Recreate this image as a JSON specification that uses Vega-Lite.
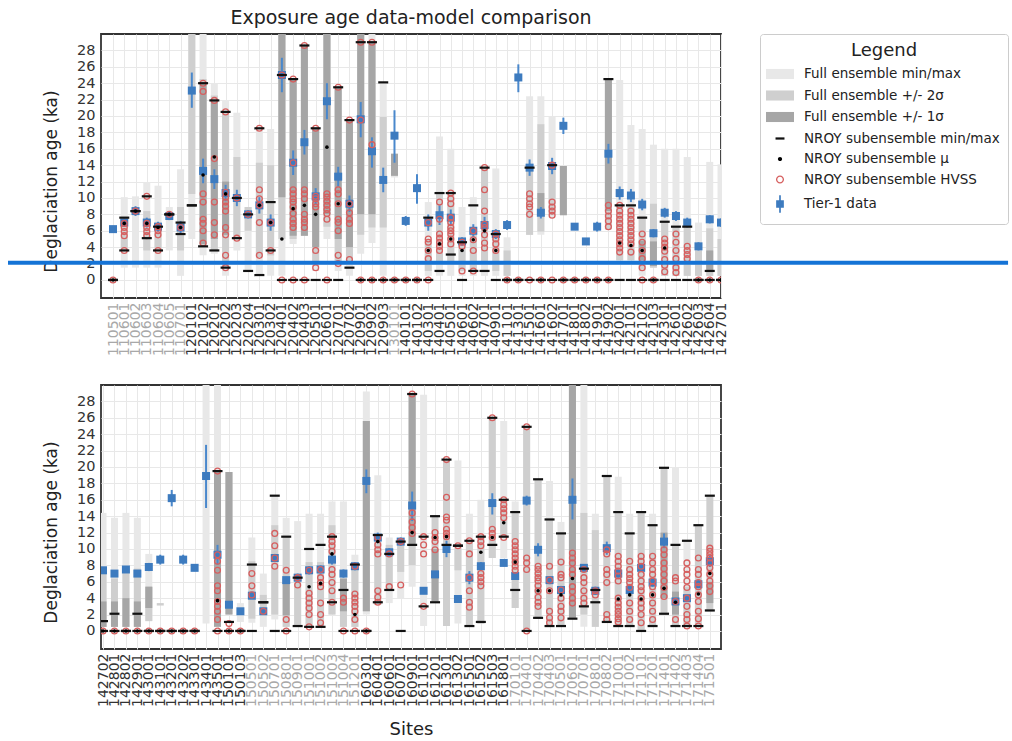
{
  "$schema": "https://vega.github.io/schema/vega-lite/v6.json",
  "padding": {"left": 5, "top": 8, "right": 0, "bottom": 0},
  "bounds": "flush",
  "spacing": 87,
  "datasets": {
    "leg": [
      {"k": "Full ensemble min/max"},
      {"k": "Full ensemble +/- 2σ"},
      {"k": "Full ensemble +/- 1σ"},
      {"k": "NROY subensemble min/max"},
      {"k": "NROY subensemble μ"},
      {"k": "NROY subensemble HVSS"},
      {"k": "Tier-1 data"}
    ],
    "top": [
      {"s":"110501","n0":0,"n1":0,"m":0,"h":[0],"o":6.2,"ol":5.8,"oh":6.6},
      {"s":"110601","f0":1.5,"f1":10.1,"a0":3.6,"a1":7.6,"n0":3.6,"n1":7.6,"m":6.9,"h":[6.9,6.4,5.9,5.4,3.6],"o":7.0,"ol":6.5,"oh":7.5},
      {"s":"110602","f0":1.5,"f1":10.2,"n0":8.4,"n1":8.4,"m":8.4,"h":[8.4],"o":8.4,"ol":7.8,"oh":9.0},
      {"s":"110603","f0":1.5,"f1":11.9,"a0":3.6,"a1":8.4,"n0":5.1,"n1":10.2,"m":6.9,"h":[10.2,6.9,6.4,5.9,5.4],"o":7.0,"ol":6.4,"oh":7.6},
      {"s":"110604","f0":1.5,"f1":11.5,"a0":3.6,"a1":7.0,"n0":3.6,"n1":6.5,"m":6.4,"h":[6.5,6.0,5.5,3.6],"o":6.5,"ol":5.9,"oh":7.1},
      {"s":"110605","f0":3.6,"f1":8.9,"n0":8.0,"n1":8.0,"m":8.0,"h":[8.0],"o":7.8,"ol":7.3,"oh":8.3},
      {"s":"110701","f0":0.5,"f1":13.5,"a0":3.6,"a1":8.9,"n0":5.6,"n1":7.0,"m":6.4,"h":[6.4],"o":6.4,"ol":5.6,"oh":7.2},
      {"s":"120101","f0":5.0,"f1":30,"a0":10.5,"a1":30,"n0":9.1,"n1":9.1,"h":[],"o":23.1,"ol":21.0,"oh":25.3},
      {"s":"120102","f0":3.0,"f1":30,"a0":4.1,"a1":24.5,"b0":4.4,"b1":23.9,"n0":4.1,"n1":24.0,"m":12.8,"h":[24.0,23.0,10.5,9.5,7.4,6.9,6.0,4.5],"o":13.3,"ol":11.8,"oh":14.8},
      {"s":"120201","f0":3.2,"f1":23.9,"a0":3.6,"a1":22.5,"b0":5.0,"b1":21.9,"n0":3.6,"n1":21.9,"m":15.0,"h":[21.9,14.8,9.5,7.0,5.5],"o":12.3,"ol":11.1,"oh":13.5},
      {"s":"120202","f0":0.5,"f1":21.9,"a0":1.5,"a1":20.5,"b0":5.5,"b1":12.0,"n0":1.5,"n1":20.5,"m":10.5,"h":[20.5,10.7,10.1,9.5,9.0,8.4,6.4,5.5,3.0,1.5],"o":10.6,"ol":9.6,"oh":11.6},
      {"s":"120203","f0":3.6,"f1":20.4,"a0":5.0,"a1":15.0,"n0":5.1,"n1":10.0,"h":[10.0,5.1],"o":10.0,"ol":9.0,"oh":11.0},
      {"s":"120204","f0":1.1,"f1":8.9,"a0":6.0,"a1":8.9,"n0":1.1,"n1":8.0,"h":[8.0],"o":8.0,"ol":7.5,"oh":8.5},
      {"s":"120301","f0":0.5,"f1":18.4,"a0":2.8,"a1":14.3,"n0":0.6,"n1":18.5,"m":9.1,"h":[18.5,11.0,9.9,9.1,7.0,3.0],"o":9.1,"ol":8.1,"oh":10.1},
      {"s":"120302","f0":0.5,"f1":18.4,"a0":3.0,"a1":14.0,"n0":3.6,"n1":9.5,"m":7.0,"h":[7.0,3.6],"o":7.0,"ol":6.0,"oh":8.0},
      {"s":"120401","f0":0.5,"f1":30,"a0":5.0,"a1":30,"b0":10.1,"b1":30,"n0":0,"n1":25.0,"m":5.0,"h":[25.0,0],"o":25.0,"ol":22.9,"oh":27.1},
      {"s":"120402","f0":4.4,"f1":24.5,"a0":5.0,"a1":24.5,"b0":5.4,"b1":24.5,"n0":0,"n1":24.5,"m":8.7,"h":[24.5,14.3,11.0,10.5,9.9,9.5,8.9,8.1,7.4,6.9,6.4,0],"o":14.3,"ol":12.8,"oh":15.8},
      {"s":"120403","f0":5.4,"f1":28.6,"a0":5.4,"a1":28.6,"b0":5.4,"b1":28.6,"n0":0,"n1":28.6,"m":9.1,"h":[28.6,11.0,10.5,9.9,8.0,7.4,7.0,6.4,0],"o":16.8,"ol":15.3,"oh":18.3},
      {"s":"120501","f0":1.1,"f1":18.6,"a0":2.0,"a1":18.5,"b0":4.0,"b1":18.5,"n0":0,"n1":18.5,"m":8.0,"h":[18.5,10.2,9.9,9.3,8.9,3.6,1.5],"o":10.2,"ol":9.2,"oh":11.2},
      {"s":"120601","f0":5.0,"f1":30,"a0":6.5,"a1":30,"b0":8.0,"b1":30,"n0":0,"m":16.2,"h":[10.5,10.1,9.6,9.1,8.6,8.1,7.4,0],"o":21.8,"ol":19.6,"oh":24.0},
      {"s":"120701","f0":1.1,"f1":23.5,"a0":2.0,"a1":23.5,"b0":5.0,"b1":23.5,"n0":0,"n1":23.5,"m":9.3,"h":[23.5,11.0,10.5,9.3,7.4,7.0,6.0,3.0,2.0],"o":12.6,"ol":11.4,"oh":13.8},
      {"s":"120702","f0":0.5,"f1":19.5,"a0":2.0,"a1":19.5,"b0":4.0,"b1":19.5,"n0":1.5,"n1":19.5,"m":9.3,"h":[19.5,9.3,8.2,7.4,6.9,2.5],"o":9.3,"ol":8.3,"oh":10.3},
      {"s":"120901","f0":3.2,"f1":30,"a0":5.5,"a1":30,"b0":8.0,"b1":30,"n0":0,"n1":29.0,"m":0,"h":[29.0,19.5,0],"o":19.6,"ol":17.4,"oh":21.7},
      {"s":"120902","f0":4.5,"f1":30,"a0":6.4,"a1":29.0,"b0":8.0,"b1":29.0,"n0":0,"n1":29.0,"m":0,"h":[29.0,16.5,0],"o":15.7,"ol":13.7,"oh":17.4},
      {"s":"120903","f0":0.5,"f1":24.1,"a0":6.4,"a1":19.9,"n0":0,"n1":24.1,"m":0,"h":[0],"o":12.2,"ol":10.7,"oh":13.7},
      {"s":"130101","f0":12.5,"f1":15.4,"b0":12.7,"b1":15.4,"n0":0,"n1":0,"m":0,"h":[0],"o":17.6,"ol":14.3,"oh":20.7},
      {"s":"140101","n0":0,"n1":0,"m":0,"h":[0],"o":7.2,"ol":6.6,"oh":7.8},
      {"s":"140102","n0":0,"n1":0,"m":0,"h":[0],"o":11.2,"ol":9.3,"oh":12.9},
      {"s":"140301","f0":0.5,"f1":9.5,"a0":1.1,"a1":5.0,"n0":0,"n1":7.6,"m":3.6,"h":[7.0,5.0,4.6,3.6,2.6,0],"o":7.0,"ol":6.0,"oh":8.0},
      {"s":"140401","f0":0.5,"f1":17.5,"a0":1.9,"a1":10.6,"n0":1.1,"n1":10.6,"m":4.4,"h":[9.5,7.4,5.6,5.1,4.6,4.1,3.6],"o":7.9,"ol":6.7,"oh":9.1},
      {"s":"140501","f0":0.5,"f1":16.0,"a0":1.9,"a1":10.6,"n0":3.1,"n1":10.6,"m":5.0,"h":[10.6,9.9,9.3,7.6,7.0,6.4,6.0,5.6,5.0,4.4],"o":7.6,"ol":6.6,"oh":8.6},
      {"s":"140601","f0":0.5,"f1":8.9,"a0":1.1,"a1":4.4,"n0":0,"n1":4.6,"m":3.6,"h":[4.6,4.1,1.1],"o":4.7,"ol":4.2,"oh":5.2},
      {"s":"140602","f0":0.5,"f1":10.1,"a0":1.1,"a1":6.0,"n0":1.1,"n1":9.1,"m":4.9,"h":[6.0,4.9,3.6,1.1],"o":6.0,"ol":5.2,"oh":6.8},
      {"s":"140701","f0":0.5,"f1":13.7,"a0":1.9,"a1":13.7,"n0":1.1,"n1":13.7,"m":6.0,"h":[13.7,11.0,8.4,6.8,6.4,5.5,4.5,3.9],"o":6.7,"ol":5.7,"oh":7.7},
      {"s":"140901","f0":0.5,"f1":13.6,"a0":1.1,"a1":6.0,"n0":0,"n1":5.6,"m":3.6,"h":[5.6,5.0,4.4,3.6],"o":5.6,"ol":5.0,"oh":6.2},
      {"s":"141101","f0":0.5,"f1":5.2,"a0":0.5,"a1":3.6,"n0":0,"n1":0,"m":0,"h":[0],"o":6.7,"ol":6.1,"oh":7.3},
      {"s":"141301","n0":0,"n1":0,"m":0,"h":[0],"o":24.7,"ol":22.9,"oh":26.3},
      {"s":"141501","f0":5.5,"f1":22.4,"a0":5.5,"a1":13.7,"n0":0,"n1":13.7,"h":[10.5,9.9,9.3,8.9,8.0,0],"o":13.7,"ol":12.7,"oh":14.7},
      {"s":"141601","f0":5.5,"f1":22.4,"a0":5.9,"a1":19.0,"b0":8.0,"b1":10.6,"n0":0,"n1":0,"m":0,"h":[0],"o":8.2,"ol":7.5,"oh":8.9},
      {"s":"141602","f0":7.6,"f1":19.9,"a0":7.9,"a1":14.0,"n0":0,"n1":14.0,"h":[14.0,9.5,8.9,8.4,7.9,0],"o":13.9,"ol":12.9,"oh":14.9},
      {"s":"141701","a0":7.9,"a1":13.9,"b0":7.9,"b1":13.9,"n0":0,"n1":0,"m":0,"h":[0],"o":18.8,"ol":17.8,"oh":19.8},
      {"s":"141801","n0":0,"n1":0,"m":0,"h":[0],"o":6.5,"ol":6.1,"oh":6.9},
      {"s":"141802","n0":0,"n1":0,"m":0,"h":[0],"o":4.7,"ol":4.3,"oh":5.1},
      {"s":"141901","n0":0,"n1":0,"m":0,"h":[0],"o":6.5,"ol":5.9,"oh":7.1},
      {"s":"141902","f0":6.2,"f1":24.5,"a0":6.2,"a1":24.5,"b0":8.4,"b1":24.5,"n0":0,"n1":24.5,"m":0,"h":[9.1,8.4,7.8,7.2,6.5,0],"o":15.4,"ol":14.2,"oh":16.6},
      {"s":"142001","f0":2.4,"f1":24.4,"a0":2.4,"a1":9.1,"n0":0,"n1":9.1,"m":4.5,"h":[9.1,8.4,7.9,7.4,6.9,6.4,5.9,5.4,4.9,4.4,3.9,3.4],"o":10.6,"ol":9.8,"oh":11.4},
      {"s":"142101","f0":2.4,"f1":18.9,"a0":2.4,"a1":9.1,"n0":0,"n1":9.1,"m":4.2,"h":[8.4,7.9,7.4,6.9,6.4,5.9,5.4,4.9,4.4,3.4],"o":10.3,"ol":9.5,"oh":11.1},
      {"s":"142102","f0":0.5,"f1":18.4,"a0":1.3,"a1":7.6,"b0":2.4,"b1":4.8,"n0":0,"n1":7.6,"m":3.6,"h":[5.6,4.6,3.6,2.6,1.5,0],"o":9.2,"ol":8.5,"oh":9.9},
      {"s":"142103","f0":1.5,"f1":16.5,"a0":1.5,"a1":9.3,"b0":1.7,"b1":4.7,"n0":0,"n1":0,"m":0,"h":[0],"o":5.7,"ol":5.2,"oh":6.2},
      {"s":"142301","f0":0.5,"f1":16.0,"a0":0.5,"a1":7.1,"n0":0,"n1":7.1,"m":3.9,"h":[5.0,4.5,4.0,3.5,2.5,1.8,1.0],"o":8.2,"ol":7.6,"oh":8.8},
      {"s":"142601","f0":0.5,"f1":16.0,"a0":0.5,"a1":6.5,"n0":0,"n1":6.5,"h":[5.6,4.6,3.6,2.6,1.5,0.9],"o":7.8,"ol":7.2,"oh":8.4},
      {"s":"142602","f0":0.5,"f1":15.0,"a0":0.5,"a1":6.5,"n0":0,"n1":6.5,"h":[4.1,3.6,3.1,2.6],"o":7.0,"ol":6.4,"oh":7.6},
      {"s":"142603","f0":0.5,"f1":7.0,"a0":0.5,"a1":3.6,"n0":0,"n1":0,"m":0,"h":[0],"o":4.1,"ol":3.6,"oh":4.6},
      {"s":"142604","f0":0.5,"f1":14.4,"a0":0.5,"a1":6.3,"b0":1.1,"b1":3.6,"n0":0,"n1":1.1,"m":0,"h":[0],"o":7.4,"ol":6.9,"oh":7.9},
      {"s":"142701","f0":0.5,"f1":14.1,"a0":0.5,"a1":5.0,"n0":0,"n1":0,"m":0,"h":[0],"o":7.0,"ol":6.5,"oh":7.5}
    ],
    "bot": [
      {"s":"142702","f0":0.5,"f1":14.4,"a0":0.5,"a1":7.0,"b0":0.5,"b1":3.6,"n0":0,"n1":1.2,"m":0,"h":[0],"o":7.4,"ol":7.0,"oh":7.8},
      {"s":"142801","f0":0.5,"f1":13.8,"a0":0.5,"a1":6.4,"b0":0.5,"b1":3.6,"n0":0,"n1":2.1,"m":0,"h":[0],"o":7.0,"ol":6.6,"oh":7.4},
      {"s":"142802","f0":0.5,"f1":14.4,"a0":0.5,"a1":7.6,"b0":0.5,"b1":4.0,"n0":0,"n1":0,"m":0,"h":[0],"o":7.5,"ol":7.1,"oh":7.9},
      {"s":"142901","f0":0.5,"f1":13.8,"a0":0.5,"a1":7.6,"b0":0.5,"b1":3.6,"n0":0,"n1":2.1,"m":0,"h":[0],"o":7.0,"ol":6.6,"oh":7.4},
      {"s":"143001","f0":1.2,"f1":9.4,"a0":1.2,"a1":5.4,"b0":2.8,"b1":5.4,"n0":0,"n1":0,"m":0,"h":[0],"o":7.8,"ol":7.3,"oh":8.3},
      {"s":"143101","a0":3.1,"a1":3.4,"n0":0,"n1":0,"m":0,"h":[0],"o":8.7,"ol":8.1,"oh":9.3},
      {"s":"143201","n0":0,"n1":0,"m":0,"h":[0],"o":16.2,"ol":15.2,"oh":17.2},
      {"s":"143202","n0":0,"n1":0,"m":0,"h":[0],"o":8.7,"ol":8.1,"oh":9.3},
      {"s":"143301","n0":0,"n1":0,"m":0,"h":[0],"o":7.7,"ol":7.3,"oh":8.1},
      {"s":"143401","f0":0.9,"f1":30,"h":[],"o":18.9,"ol":15.0,"oh":22.7},
      {"s":"143501","f0":0.5,"f1":30,"a0":0.5,"a1":19.4,"b0":0.5,"b1":19.4,"n0":0,"n1":19.5,"m":3.7,"h":[19.5,9.3,8.5,7.4,5.5,4.9,3.6,3.0,2.4,1.4,0],"o":9.3,"ol":8.1,"oh":10.5},
      {"s":"150101","a0":2.0,"a1":19.4,"b0":2.0,"b1":19.4,"n0":0,"n1":1.1,"m":0,"h":[0.9,0],"o":3.2,"ol":2.8,"oh":3.6},
      {"s":"150103","f0":1.1,"f1":3.4,"n0":0,"n1":0,"m":0,"h":[0],"o":2.4,"ol":2.1,"oh":2.7},
      {"s":"150501","f0":1.0,"f1":11.4,"a0":1.5,"a1":8.5,"n0":0,"n1":8.1,"h":[7.0,5.5,4.4],"o":4.3,"ol":3.9,"oh":4.7},
      {"s":"150502","f0":0.5,"f1":7.0,"a0":1.9,"a1":4.4,"n0":3.5,"n1":3.5,"h":[2.4],"o":2.4,"ol":2.1,"oh":2.7},
      {"s":"150701","f0":1.4,"f1":16.4,"a0":2.0,"a1":12.9,"n0":0,"n1":16.5,"h":[11.9,10.4,8.9,7.9],"o":8.9,"ol":8.4,"oh":9.4},
      {"s":"150801","f0":0.5,"f1":13.8,"a0":0.5,"a1":11.4,"b0":1.9,"b1":6.4,"n0":0,"n1":11.5,"h":[7.4,1.4,0],"o":6.2,"ol":5.8,"oh":6.6},
      {"s":"150901","f0":0.5,"f1":13.4,"a0":0.5,"a1":6.4,"n0":0.6,"n1":6.5,"h":[6.5,5.6],"o":6.5,"ol":6.0,"oh":7.0},
      {"s":"151001","f0":0.5,"f1":14.3,"a0":0.5,"a1":8.4,"n0":0.5,"n1":10.0,"m":5.4,"h":[7.4,4.6,4.0,3.4,2.8,2.0,0.5],"o":7.4,"ol":6.9,"oh":7.9},
      {"s":"151002","f0":0.5,"f1":14.3,"a0":0.5,"a1":8.4,"n0":0.5,"n1":10.5,"m":5.8,"h":[7.5,6.5,5.9,5.4,3.4,2.0,1.0],"o":7.5,"ol":7.0,"oh":8.0},
      {"s":"151003","f0":2.0,"f1":15.8,"a0":2.0,"a1":12.9,"n0":3.5,"n1":11.5,"m":9.4,"h":[11.5,10.9,10.4,9.7,7.5,6.9,5.9,4.9,3.5],"o":8.7,"ol":8.1,"oh":9.3},
      {"s":"151004","f0":0.5,"f1":15.8,"a0":0.5,"a1":6.4,"b0":2.4,"b1":6.4,"n0":0,"n1":5.0,"h":[4.0,3.5,0],"o":7.0,"ol":6.5,"oh":7.5},
      {"s":"151201","f0":0.5,"f1":9.3,"a0":0.5,"a1":8.1,"n0":0,"n1":8.1,"m":2.0,"h":[7.9,4.5,4.0,3.5,3.0,2.4,1.4,0],"o":7.9,"ol":7.4,"oh":8.4},
      {"s":"160301","f0":2.0,"f1":29.2,"a0":2.4,"a1":25.6,"b0":2.4,"b1":25.6,"n0":0,"n1":0,"m":0,"h":[0],"o":18.3,"ol":16.8,"oh":19.7},
      {"s":"160401","f0":3.2,"f1":19.0,"a0":3.2,"a1":11.6,"n0":3.5,"n1":11.7,"m":10.9,"h":[11.4,10.5,9.9,9.4,4.9,4.1,3.5],"o":11.4,"ol":10.8,"oh":12.0},
      {"s":"160601","f0":3.4,"f1":11.4,"a0":5.0,"a1":10.5,"n0":5.0,"n1":9.4,"h":[9.4,5.4],"o":9.6,"ol":9.1,"oh":10.1},
      {"s":"160701","f0":3.9,"f1":11.3,"a0":7.2,"a1":10.5,"n0":0,"n1":10.9,"h":[10.9,5.6],"o":10.9,"ol":10.4,"oh":11.4},
      {"s":"160901","f0":5.4,"f1":28.9,"a0":8.0,"a1":28.9,"b0":10.5,"b1":28.9,"n0":10.5,"n1":28.9,"m":12.0,"h":[28.9,14.4,13.3,12.6,11.9],"o":15.3,"ol":13.4,"oh":17.0},
      {"s":"161101","f0":0.6,"f1":28.8,"n0":3.0,"n1":11.5,"h":[11.5,10.5,9.4,3.0],"o":4.9,"ol":4.5,"oh":5.3},
      {"s":"161201","a0":3.6,"a1":14.0,"b0":3.6,"b1":10.0,"n0":3.5,"n1":14.0,"m":11.4,"h":[12.0,11.4,10.9,9.9],"o":6.9,"ol":6.5,"oh":7.3},
      {"s":"161301","a0":0.6,"a1":20.8,"n0":10.5,"n1":20.9,"m":11.5,"h":[20.9,16.3,13.9,13.5,12.4,11.9,11.5],"o":10.0,"ol":9.0,"oh":11.0},
      {"s":"161302","f0":0.9,"f1":20.8,"a0":7.4,"a1":10.1,"n0":10.4,"n1":10.4,"h":[10.4],"o":3.9,"ol":3.6,"oh":4.2},
      {"s":"161501","f0":0.5,"f1":14.3,"a0":0.5,"a1":11.0,"n0":0.6,"n1":11.0,"h":[11.0,9.4,6.5,4.9,3.5,2.9],"o":6.5,"ol":5.7,"oh":7.3},
      {"s":"161502","f0":0.9,"f1":16.0,"a0":0.9,"a1":11.5,"n0":1.1,"n1":11.5,"m":9.6,"h":[11.5,10.9,10.4,7.0,6.5,6.0,5.5],"o":7.9,"ol":7.4,"oh":8.4},
      {"s":"161503","f0":8.9,"f1":26.0,"a0":8.9,"a1":26.0,"n0":10.5,"n1":26.0,"m":11.4,"h":[26.0,12.4,11.9,11.4],"o":15.6,"ol":14.2,"oh":16.8},
      {"s":"161801","f0":8.9,"f1":25.6,"a0":11.4,"a1":16.0,"n0":11.5,"n1":16.0,"m":13.2,"h":[16.0,15.4,14.9,14.4,13.8,11.4],"o":8.3,"ol":7.9,"oh":8.7},
      {"s":"170101","f0":2.8,"f1":15.8,"a0":2.8,"a1":14.5,"n0":5.0,"n1":14.5,"m":8.4,"h":[10.9,10.4,9.9,9.4,8.9,8.4,7.9,7.4],"o":6.7,"ol":6.3,"oh":7.1},
      {"s":"170401","f0":0,"f1":24.9,"a0":0,"a1":24.9,"n0":0,"n1":24.9,"h":[24.9,8.9,8.3,7.5,0],"o":15.9,"ol":15.3,"oh":16.5},
      {"s":"170402","f0":1.5,"f1":18.4,"a0":1.5,"a1":18.4,"n0":1.6,"n1":18.5,"m":4.9,"h":[7.9,7.5,7.0,6.5,6.1,5.5,4.9,4.1,3.5,3.0],"o":9.9,"ol":9.1,"oh":10.7},
      {"s":"170403","f0":0.5,"f1":18.3,"a0":0.5,"a1":13.6,"n0":0.6,"n1":13.6,"m":4.9,"h":[7.9,6.2,4.9,2.4,1.6,1.0],"o":6.2,"ol":5.7,"oh":6.7},
      {"s":"170501","f0":0.5,"f1":13.3,"a0":0.5,"a1":11.9,"n0":0.6,"n1":11.9,"m":4.4,"h":[8.4,6.9,6.5,5.0,4.0,3.0,2.4,1.6],"o":5.0,"ol":4.5,"oh":5.5},
      {"s":"170601","f0":1.6,"f1":30,"a0":1.6,"a1":30,"b0":1.6,"b1":30,"n0":1.5,"m":6.4,"h":[9.5,8.9,8.3,7.5,6.9,5.4,4.8,4.0,3.4],"o":16.0,"ol":13.6,"oh":18.6},
      {"s":"170701","f0":0.5,"f1":30,"a0":2.0,"a1":14.4,"n0":3.0,"n1":7.6,"h":[7.5,6.5,5.9,4.9,4.0,3.4],"o":7.7,"ol":7.3,"oh":8.1},
      {"s":"170801","f0":0.5,"f1":14.3,"a0":0.5,"a1":12.3,"n0":3.5,"n1":5.0,"h":[4.9,4.4],"o":4.9,"ol":4.4,"oh":5.4},
      {"s":"170802","a0":1.2,"a1":18.9,"n0":1.1,"n1":18.9,"h":[9.9,9.4,7.5,6.9,5.9,2.0,1.4],"o":10.1,"ol":9.3,"oh":10.9},
      {"s":"171001","f0":0.5,"f1":18.8,"a0":0.5,"a1":14.5,"n0":0.6,"n1":14.5,"m":3.9,"h":[9.1,8.5,7.9,7.3,6.7,6.1,4.0,3.4,2.9,2.4,2.0,1.5,1.1],"o":7.0,"ol":6.5,"oh":7.5},
      {"s":"171002","f0":0.5,"f1":14.3,"a0":0.5,"a1":11.9,"n0":0.6,"n1":11.9,"m":4.4,"h":[8.5,7.5,6.9,6.4,5.9,5.3,3.4,2.4,1.4],"o":5.0,"ol":4.5,"oh":5.5},
      {"s":"171101","f0":0.1,"f1":14.5,"a0":0.1,"a1":14.5,"n0":0,"n1":14.5,"m":3.9,"h":[9.1,8.5,7.9,6.9,6.1,5.4,4.9,4.0,3.4,2.8,2.0,1.0],"o":7.7,"ol":7.2,"oh":8.2},
      {"s":"171201","f0":0.5,"f1":14.3,"a0":0.5,"a1":12.9,"n0":0.6,"n1":12.9,"m":4.4,"h":[9.1,8.3,7.5,6.9,6.1,5.4,4.4,3.4,2.4,1.4],"o":5.9,"ol":5.4,"oh":6.4},
      {"s":"171401","a0":2.0,"a1":19.9,"b0":4.0,"b1":12.0,"n0":2.1,"n1":19.9,"m":5.2,"h":[9.9,9.3,8.3,7.6,6.9,6.1,5.3,4.2],"o":10.9,"ol":10.1,"oh":11.9},
      {"s":"171402","f0":0.5,"f1":19.9,"a0":0.5,"a1":10.5,"b0":2.0,"b1":4.8,"n0":0.6,"n1":10.5,"m":3.5,"h":[6.5,6.1,3.6,1.4],"o":3.6,"ol":3.2,"oh":4.0},
      {"s":"171403","f0":0.5,"f1":11.0,"a0":0.5,"a1":5.4,"n0":0.6,"n1":11.0,"h":[8.3,7.5,6.9,6.1,5.3,4.0,3.0,2.0,1.4,0.6],"o":4.0,"ol":3.6,"oh":4.4},
      {"s":"171404","f0":0.5,"f1":12.9,"a0":0.5,"a1":12.9,"n0":0.6,"n1":12.9,"m":4.5,"h":[8.9,7.5,6.9,5.9,5.4,4.4,3.6,2.4,1.5,0.6],"o":5.7,"ol":5.2,"oh":6.2},
      {"s":"171501","a0":2.4,"a1":16.5,"b0":3.4,"b1":6.0,"n0":2.5,"n1":16.5,"m":7.0,"h":[10.1,9.7,9.3,8.9,8.3,7.7,6.9,6.1,5.5,4.8],"o":8.5,"ol":7.8,"oh":9.2}
    ]
  },
  "vconcat": [
    {
      "width": 620,
      "height": 264,
      "title": {"text": "Exposure age data-model comparison", "fontSize": 19, "fontWeight": "normal", "color": "#222222", "anchor": "middle", "offset": 6},
      "layer": [
        {
          "data": {"name": "top"},
          "encoding": {
            "x": {
              "field": "s", "type": "nominal", "title": null,
              "scale": {"type": "point", "padding": 0.533, "align": 1,
                "domain": ["110501","110601","110602","110603","110604","110605","110701","120101","120102","120201","120202","120203","120204","120301","120302","120401","120402","120403","120501","120601","120701","120702","120901","120902","120903","130101","140101","140102","140301","140401","140501","140601","140602","140701","140901","141101","141301","141501","141601","141602","141701","141801","141802","141901","141902","142001","142101","142102","142103","142301","142601","142602","142603","142604","142701"]},
              "axis": {"labelColor": {"condition": {"test": "datum.value < '120000' || (datum.value >= '130000' && datum.value < '140000')", "value": "#a8a8a8"}, "value": "#333333"}}
            }
          },
          "layer": [
            {"transform": [{"filter": "datum.f0 != null"}], "mark": {"type": "rule", "color": "#e8e8e8", "strokeWidth": 7, "clip": true},
             "encoding": {"y": {"field": "f0", "type": "quantitative", "title": "Deglaciation age (ka)", "scale": {"domain": [-2.2, 30], "nice": false, "zero": false}, "axis": {"values": [0,2,4,6,8,10,12,14,16,18,20,22,24,26,28], "labelOverlap": false, "titleY": 147}}, "y2": {"field": "f1"}}},
            {"transform": [{"filter": "datum.a0 != null"}], "mark": {"type": "rule", "color": "#cfcfcf", "strokeWidth": 7, "clip": true},
             "encoding": {"y": {"field": "a0", "type": "quantitative", "title": "Deglaciation age (ka)", "axis": {"values": [0,2,4,6,8,10,12,14,16,18,20,22,24,26,28], "labelOverlap": false, "titleY": 147}}, "y2": {"field": "a1"}}},
            {"transform": [{"filter": "datum.b0 != null"}], "mark": {"type": "rule", "color": "#a6a6a6", "strokeWidth": 7, "clip": true},
             "encoding": {"y": {"field": "b0", "type": "quantitative", "title": "Deglaciation age (ka)", "axis": {"values": [0,2,4,6,8,10,12,14,16,18,20,22,24,26,28], "labelOverlap": false, "titleY": 147}}, "y2": {"field": "b1"}}},
            {"transform": [{"filter": "datum.o != null"}], "mark": {"type": "rule", "color": "#4a88cc", "strokeWidth": 2, "clip": true},
             "encoding": {"y": {"field": "ol", "type": "quantitative", "title": "Deglaciation age (ka)", "axis": {"values": [0,2,4,6,8,10,12,14,16,18,20,22,24,26,28], "labelOverlap": false, "titleY": 147}}, "y2": {"field": "oh"}}},
            {"transform": [{"filter": "datum.o != null"}], "mark": {"type": "point", "shape": "square", "filled": true, "color": "#3d7bbf", "size": 64, "opacity": 1, "clip": true},
             "encoding": {"y": {"field": "o", "type": "quantitative", "title": "Deglaciation age (ka)", "axis": {"values": [0,2,4,6,8,10,12,14,16,18,20,22,24,26,28], "labelOverlap": false, "titleY": 147}}}},
            {"transform": [{"filter": "isArray(datum.h)"}, {"flatten": ["h"]}], "mark": {"type": "point", "filled": false, "color": "#d65f5f", "size": 34, "strokeWidth": 1.3, "opacity": 1, "clip": true},
             "encoding": {"y": {"field": "h", "type": "quantitative", "title": "Deglaciation age (ka)", "axis": {"values": [0,2,4,6,8,10,12,14,16,18,20,22,24,26,28], "labelOverlap": false, "titleY": 147}}}},
            {"transform": [{"filter": "datum.n0 != null"}], "mark": {"type": "tick", "color": "#111111", "size": 10, "thickness": 2.2, "opacity": 1, "clip": true},
             "encoding": {"y": {"field": "n0", "type": "quantitative", "title": "Deglaciation age (ka)", "axis": {"values": [0,2,4,6,8,10,12,14,16,18,20,22,24,26,28], "labelOverlap": false, "titleY": 147}}}},
            {"transform": [{"filter": "datum.n1 != null"}], "mark": {"type": "tick", "color": "#111111", "size": 10, "thickness": 2.2, "opacity": 1, "clip": true},
             "encoding": {"y": {"field": "n1", "type": "quantitative", "title": "Deglaciation age (ka)", "axis": {"values": [0,2,4,6,8,10,12,14,16,18,20,22,24,26,28], "labelOverlap": false, "titleY": 147}}}},
            {"transform": [{"filter": "datum.m != null"}], "mark": {"type": "point", "filled": true, "color": "#000000", "size": 13, "opacity": 1, "clip": true},
             "encoding": {"y": {"field": "m", "type": "quantitative", "title": "Deglaciation age (ka)", "axis": {"values": [0,2,4,6,8,10,12,14,16,18,20,22,24,26,28], "labelOverlap": false, "titleY": 147}}}}
          ]
        },
        {
          "data": {"name": "leg"},
          "mark": {"type": "point", "clip": true, "opacity": 1, "strokeWidth": 1.3},
          "encoding": {
            "y": {"datum": -100, "type": "quantitative", "title": "Deglaciation age (ka)", "axis": {"values": [0,2,4,6,8,10,12,14,16,18,20,22,24,26,28], "labelOverlap": false, "titleY": 147}},
            "fill": {"field": "k", "type": "nominal",
              "scale": {"domain": ["Full ensemble min/max","Full ensemble +/- 2σ","Full ensemble +/- 1σ","NROY subensemble min/max","NROY subensemble μ","NROY subensemble HVSS","Tier-1 data"],
                        "range": ["#e8e8e8","#cfcfcf","#a6a6a6","#111111","#000000","transparent","#3d7bbf"]},
              "legend": {"title": "Legend", "orient": "none", "legendX": 659, "legendY": 0, "titleFontSize": 18, "titleFontWeight": "normal", "titleColor": "#222222", "titleAnchor": "middle", "titlePadding": 6, "labelFontSize": 13.5, "labelLimit": 400, "labelColor": "#222222", "symbolSize": 196, "symbolStrokeWidth": 1.3, "labelOffset": 16, "rowPadding": 5.5, "padding": 8, "strokeColor": "#cccccc", "cornerRadius": 3, "fillColor": "#ffffff", "symbolOffset": 4}},
            "stroke": {"field": "k", "type": "nominal",
              "scale": {"domain": ["Full ensemble min/max","Full ensemble +/- 2σ","Full ensemble +/- 1σ","NROY subensemble min/max","NROY subensemble μ","NROY subensemble HVSS","Tier-1 data"],
                        "range": ["transparent","transparent","transparent","transparent","transparent","#d65f5f","transparent"]},
              "legend": {"title": "Legend", "orient": "none", "legendX": 659, "legendY": 0, "titleFontSize": 18, "titleFontWeight": "normal", "titleColor": "#222222", "titleAnchor": "middle", "titlePadding": 6, "labelFontSize": 13.5, "labelLimit": 400, "labelColor": "#222222", "symbolSize": 196, "symbolStrokeWidth": 1.3, "labelOffset": 16, "rowPadding": 5.5, "padding": 8, "strokeColor": "#cccccc", "cornerRadius": 3, "fillColor": "#ffffff", "symbolOffset": 4}},
            "shape": {"field": "k", "type": "nominal",
              "scale": {"domain": ["Full ensemble min/max","Full ensemble +/- 2σ","Full ensemble +/- 1σ","NROY subensemble min/max","NROY subensemble μ","NROY subensemble HVSS","Tier-1 data"],
                        "range": ["M-2,-0.72L2,-0.72L2,0.72L-2,0.72Z","M-2,-0.72L2,-0.72L2,0.72L-2,0.72Z","M-2,-0.72L2,-0.72L2,0.72L-2,0.72Z","M-0.64,-0.16L0.64,-0.16L0.64,0.16L-0.64,0.16Z","M0.3,0A0.3,0.3,0,1,1,-0.3,0A0.3,0.3,0,1,1,0.3,0Z","M0.48,0A0.48,0.48,0,1,1,-0.48,0A0.48,0.48,0,1,1,0.48,0Z","M-0.55,-0.55L0.55,-0.55L0.55,0.55L-0.55,0.55Z M-0.12,-1.25L0.12,-1.25L0.12,1.25L-0.12,1.25Z"]},
              "legend": {"title": "Legend", "orient": "none", "legendX": 659, "legendY": 0, "titleFontSize": 18, "titleFontWeight": "normal", "titleColor": "#222222", "titleAnchor": "middle", "titlePadding": 6, "labelFontSize": 13.5, "labelLimit": 400, "labelColor": "#222222", "symbolSize": 196, "symbolStrokeWidth": 1.3, "labelOffset": 16, "rowPadding": 5.5, "padding": 8, "strokeColor": "#cccccc", "cornerRadius": 3, "fillColor": "#ffffff", "symbolOffset": 4}}
          }
        },
        {
          "data": {"values": [{}]},
          "mark": {"type": "rule", "color": "#1473d6", "strokeWidth": 4, "clip": false},
          "encoding": {
            "x": {"datum": -0.15, "type": "quantitative", "scale": {"domain": [0, 1], "nice": false, "zero": false}, "axis": null},
            "x2": {"datum": 1.463},
            "y": {"datum": 2.1, "type": "quantitative", "title": "Deglaciation age (ka)", "axis": {"values": [0,2,4,6,8,10,12,14,16,18,20,22,24,26,28], "labelOverlap": false, "titleY": 147}}
          }
        }
      ],
      "resolve": {"scale": {"x": "independent"}}
    },
    {
      "width": 620,
      "height": 264,
      "data": {"name": "bot"},
      "encoding": {
        "x": {
          "field": "s", "type": "nominal", "title": "Sites",
          "scale": {"type": "point", "padding": 0.576, "align": 0.153,
            "domain": ["142702","142801","142802","142901","143001","143101","143201","143202","143301","143401","143501","150101","150103","150501","150502","150701","150801","150901","151001","151002","151003","151004","151201","160301","160401","160601","160701","160901","161101","161201","161301","161302","161501","161502","161503","161801","170101","170401","170402","170403","170501","170601","170701","170801","170802","171001","171002","171101","171201","171401","171402","171403","171404","171501"]},
          "axis": {"labelColor": {"condition": {"test": "(datum.value >= '150500' && datum.value < '160000') || datum.value >= '170000'", "value": "#a8a8a8"}, "value": "#333333"}}
        }
      },
      "layer": [
        {"transform": [{"filter": "datum.f0 != null"}], "mark": {"type": "rule", "color": "#e8e8e8", "strokeWidth": 7, "clip": true},
         "encoding": {"y": {"field": "f0", "type": "quantitative", "title": "Deglaciation age (ka)", "scale": {"domain": [-2.2, 30], "nice": false, "zero": false}, "axis": {"values": [0,2,4,6,8,10,12,14,16,18,20,22,24,26,28], "labelOverlap": false, "titleY": 147}}, "y2": {"field": "f1"}}},
        {"transform": [{"filter": "datum.a0 != null"}], "mark": {"type": "rule", "color": "#cfcfcf", "strokeWidth": 7, "clip": true},
         "encoding": {"y": {"field": "a0", "type": "quantitative", "title": "Deglaciation age (ka)", "axis": {"values": [0,2,4,6,8,10,12,14,16,18,20,22,24,26,28], "labelOverlap": false, "titleY": 147}}, "y2": {"field": "a1"}}},
        {"transform": [{"filter": "datum.b0 != null"}], "mark": {"type": "rule", "color": "#a6a6a6", "strokeWidth": 7, "clip": true},
         "encoding": {"y": {"field": "b0", "type": "quantitative", "title": "Deglaciation age (ka)", "axis": {"values": [0,2,4,6,8,10,12,14,16,18,20,22,24,26,28], "labelOverlap": false, "titleY": 147}}, "y2": {"field": "b1"}}},
        {"transform": [{"filter": "datum.o != null"}], "mark": {"type": "rule", "color": "#4a88cc", "strokeWidth": 2, "clip": true},
         "encoding": {"y": {"field": "ol", "type": "quantitative", "title": "Deglaciation age (ka)", "axis": {"values": [0,2,4,6,8,10,12,14,16,18,20,22,24,26,28], "labelOverlap": false, "titleY": 147}}, "y2": {"field": "oh"}}},
        {"transform": [{"filter": "datum.o != null"}], "mark": {"type": "point", "shape": "square", "filled": true, "color": "#3d7bbf", "size": 64, "opacity": 1, "clip": true},
         "encoding": {"y": {"field": "o", "type": "quantitative", "title": "Deglaciation age (ka)", "axis": {"values": [0,2,4,6,8,10,12,14,16,18,20,22,24,26,28], "labelOverlap": false, "titleY": 147}}}},
        {"transform": [{"filter": "isArray(datum.h)"}, {"flatten": ["h"]}], "mark": {"type": "point", "filled": false, "color": "#d65f5f", "size": 34, "strokeWidth": 1.3, "opacity": 1, "clip": true},
         "encoding": {"y": {"field": "h", "type": "quantitative", "title": "Deglaciation age (ka)", "axis": {"values": [0,2,4,6,8,10,12,14,16,18,20,22,24,26,28], "labelOverlap": false, "titleY": 147}}}},
        {"transform": [{"filter": "datum.n0 != null"}], "mark": {"type": "tick", "color": "#111111", "size": 10, "thickness": 2.2, "opacity": 1, "clip": true},
         "encoding": {"y": {"field": "n0", "type": "quantitative", "title": "Deglaciation age (ka)", "axis": {"values": [0,2,4,6,8,10,12,14,16,18,20,22,24,26,28], "labelOverlap": false, "titleY": 147}}}},
        {"transform": [{"filter": "datum.n1 != null"}], "mark": {"type": "tick", "color": "#111111", "size": 10, "thickness": 2.2, "opacity": 1, "clip": true},
         "encoding": {"y": {"field": "n1", "type": "quantitative", "title": "Deglaciation age (ka)", "axis": {"values": [0,2,4,6,8,10,12,14,16,18,20,22,24,26,28], "labelOverlap": false, "titleY": 147}}}},
        {"transform": [{"filter": "datum.m != null"}], "mark": {"type": "point", "filled": true, "color": "#000000", "size": 13, "opacity": 1, "clip": true},
         "encoding": {"y": {"field": "m", "type": "quantitative", "title": "Deglaciation age (ka)", "axis": {"values": [0,2,4,6,8,10,12,14,16,18,20,22,24,26,28], "labelOverlap": false, "titleY": 147}}}}
      ]
    }
  ],
  "config": {
    "font": "DejaVu Sans",
    "view": {"stroke": "#333333", "strokeWidth": 1.8},
    "axis": {"grid": true, "gridColor": "#e8e8e8", "domain": false, "ticks": false},
    "axisY": {"labelFontSize": 14.5, "labelColor": "#333333", "labelPadding": 6, "labelOverlap": false, "titleFontSize": 17, "titleFontWeight": "normal", "titleColor": "#222222", "titlePadding": 16},
    "axisX": {"labelFontSize": 14, "labelAngle": -90, "labelPadding": 4, "labelOverlap": false, "titleFontSize": 18, "titleFontWeight": "normal", "titleColor": "#222222", "titlePadding": 14}
  }
}
